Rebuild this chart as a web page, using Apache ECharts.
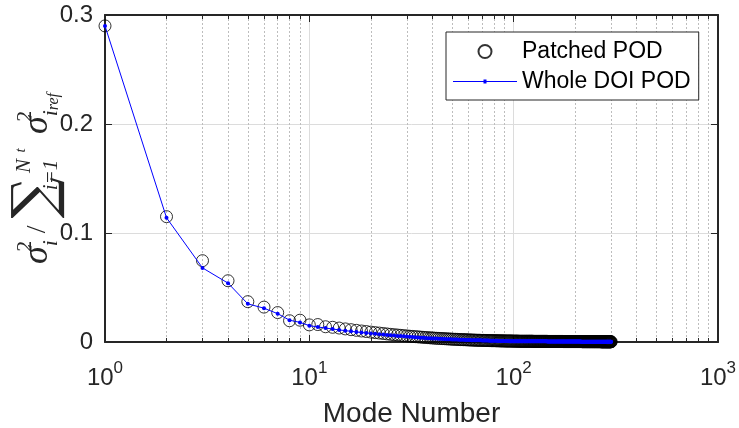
<!DOCTYPE html>
<html>
<head>
<meta charset="utf-8">
<script src="https://cdn.jsdelivr.net/npm/echarts@6/dist/echarts.min.js"></script>
<style>html,body{margin:0;padding:0;background:#fff;}#chart{width:739px;height:428px;}</style>
</head>
<body>
<div id="chart"></div>
<script>
// Mode number = index + 1
const patchedPOD = [
0.290,0.115,0.0746,0.0562,0.037,0.032,0.027,0.0195,0.0200,0.0157,
0.0160,0.0140,0.0135,0.0128,0.0120,0.0113,0.0107,0.0101,0.0096,0.0091,
0.0086,0.0082,0.0078,0.0074,0.0070,0.0067,0.0064,0.0061,0.0058,0.0056,
0.0053,0.0051,0.0049,0.0047,0.0045,0.0043,0.0041,0.0040,0.0038,0.0037,
0.0035,0.0034,0.0033,0.0032,0.0031,0.0030,0.0029,0.0028,0.0027,0.0026,
0.0025,0.0025,0.0024,0.0023,0.0022,0.0022,0.0021,0.0021,0.0020,0.0019,
0.0019,0.0018,0.0018,0.0017,0.0017,0.0016,0.0016,0.0016,0.0015,0.0015,
0.0015,0.0014,0.0014,0.0014,0.0013,0.0013,0.0013,0.0012,0.0012,0.0012,
0.0012,0.0011,0.0011,0.0011,0.0011,0.0010,0.0010,0.0010,0.0010,0.0010,
0.0009,0.0009,0.0009,0.0009,0.0009,0.0009,0.0009,0.0009,0.0008,0.0008,
0.0008,0.0008,0.0008,0.0008,0.0008,0.0007,0.0007,0.0007,0.0007,0.0007,
0.0007,0.0007,0.0007,0.0007,0.0007,0.0007,0.0007,0.0007,0.0007,0.0007,
0.0007,0.0007,0.0007,0.0007,0.0006,0.0006,0.0006,0.0006,0.0006,0.0006,
0.0006,0.0006,0.0006,0.0006,0.0006,0.0006,0.0006,0.0006,0.0006,0.0006,
0.0006,0.0006,0.0006,0.0006,0.0006,0.0006,0.0005,0.0005,0.0005,0.0005,
0.0005,0.0005,0.0005,0.0005,0.0005,0.0005,0.0005,0.0005,0.0005,0.0005,
0.0005,0.0005,0.0005,0.0005,0.0005,0.0005,0.0005,0.0005,0.0005,0.0005,
0.0005,0.0005,0.0005,0.0005,0.0004,0.0004,0.0004,0.0004,0.0004,0.0004,
0.0004,0.0004,0.0004,0.0004,0.0004,0.0004,0.0004,0.0004,0.0004,0.0004,
0.0004,0.0004,0.0004,0.0004,0.0004,0.0004,0.0004,0.0004,0.0004,0.0004,
0.0004,0.0004,0.0004,0.0004,0.0004,0.0004,0.0004,0.0004,0.0004,0.0004,
0.0004,0.0004,0.0004,0.0004,0.0004,0.0003,0.0003,0.0003,0.0003,0.0003,
0.0003,0.0003,0.0003,0.0003,0.0003,0.0003,0.0003,0.0003,0.0003,0.0003,
0.0003,0.0003,0.0003,0.0003,0.0003,0.0003,0.0003,0.0003,0.0003,0.0003,
0.0003,0.0003,0.0003,0.0003,0.0003,0.0003,0.0003,0.0003,0.0003,0.0003,
0.0003,0.0003,0.0003,0.0003,0.0003,0.0003,0.0003,0.0003,0.0003,0.0003,
0.0003,0.0003,0.0003,0.0003,0.0003,0.0003,0.0003,0.0002,0.0002,0.0002,
0.0002,0.0002,0.0002,0.0002,0.0002,0.0002,0.0002,0.0002,0.0002,0.0002,
0.0002,0.0002,0.0002,0.0002,0.0002,0.0002,0.0002,0.0002,0.0002,0.0002,
0.0002,0.0002,0.0002,0.0002,0.0002,0.0002,0.0002,0.0002,0.0002,0.0002
];
const wholeDOIPOD = [
0.290,0.114,0.068,0.054,0.035,0.031,0.026,0.020,0.018,0.0150,
0.0138,0.0128,0.0119,0.0111,0.0104,0.0098,0.0092,0.0087,0.0083,0.0079,
0.0075,0.0071,0.0068,0.0065,0.0062,0.0059,0.0056,0.0054,0.0052,0.0050,
0.0048,0.0046,0.0044,0.0042,0.0040,0.0038,0.0037,0.0035,0.0034,0.0033,
0.0032,0.0031,0.0030,0.0029,0.0028,0.0027,0.0026,0.0025,0.0025,0.0024,
0.0023,0.0023,0.0022,0.0021,0.0021,0.0020,0.0020,0.0019,0.0019,0.0018,
0.0018,0.0017,0.0017,0.0016,0.0016,0.0016,0.0015,0.0015,0.0015,0.0014,
0.0014,0.0014,0.0013,0.0013,0.0013,0.0012,0.0012,0.0012,0.0012,0.0011,
0.0011,0.0011,0.0011,0.0010,0.0010,0.0010,0.0010,0.0010,0.0009,0.0009,
0.0009,0.0009,0.0009,0.0009,0.0008,0.0008,0.0008,0.0008,0.0008,0.0008,
0.0008,0.0008,0.0008,0.0007,0.0007,0.0007,0.0007,0.0007,0.0007,0.0007,
0.0007,0.0007,0.0007,0.0007,0.0007,0.0007,0.0007,0.0007,0.0007,0.0007,
0.0007,0.0007,0.0007,0.0006,0.0006,0.0006,0.0006,0.0006,0.0006,0.0006,
0.0006,0.0006,0.0006,0.0006,0.0006,0.0006,0.0006,0.0006,0.0006,0.0006,
0.0006,0.0006,0.0006,0.0006,0.0006,0.0005,0.0005,0.0005,0.0005,0.0005,
0.0005,0.0005,0.0005,0.0005,0.0005,0.0005,0.0005,0.0005,0.0005,0.0005,
0.0005,0.0005,0.0005,0.0005,0.0005,0.0005,0.0005,0.0005,0.0005,0.0005,
0.0005,0.0005,0.0004,0.0004,0.0004,0.0004,0.0004,0.0004,0.0004,0.0004,
0.0004,0.0004,0.0004,0.0004,0.0004,0.0004,0.0004,0.0004,0.0004,0.0004,
0.0004,0.0004,0.0004,0.0004,0.0004,0.0004,0.0004,0.0004,0.0004,0.0004,
0.0004,0.0004,0.0004,0.0004,0.0004,0.0004,0.0004,0.0004,0.0004,0.0004,
0.0004,0.0004,0.0004,0.0003,0.0003,0.0003,0.0003,0.0003,0.0003,0.0003,
0.0003,0.0003,0.0003,0.0003,0.0003,0.0003,0.0003,0.0003,0.0003,0.0003,
0.0003,0.0003,0.0003,0.0003,0.0003,0.0003,0.0003,0.0003,0.0003,0.0003,
0.0003,0.0003,0.0003,0.0003,0.0003,0.0003,0.0003,0.0003,0.0003,0.0003,
0.0003,0.0003,0.0003,0.0003,0.0003,0.0003,0.0003,0.0003,0.0003,0.0003,
0.0003,0.0003,0.0003,0.0003,0.0003,0.0002,0.0002,0.0002,0.0002,0.0002,
0.0002,0.0002,0.0002,0.0002,0.0002,0.0002,0.0002,0.0002,0.0002,0.0002,
0.0002,0.0002,0.0002,0.0002,0.0002,0.0002,0.0002,0.0002,0.0002,0.0002,
0.0002,0.0002,0.0002,0.0002,0.0002,0.0002,0.0002,0.0002,0.0002,0.0002
];
const seriesNames = ['Patched POD', 'Whole DOI POD'];
const xRange = [1, 1000];
const yTicks = [0, 0.1, 0.2, 0.3];
const xTitle = 'Mode Number';

const INK = '#262626';
const SANS = 'Liberation Sans, Arial, Helvetica, sans-serif';
const SERIF = 'Liberation Serif, Times New Roman, serif';

const toPairs = arr => arr.map((v, i) => [i + 1, v]);

const chart = echarts.init(document.getElementById('chart'), null, {renderer: 'canvas'});

const axisCommon = {
  axisLine: {show: true, onZero: false, lineStyle: {color: INK, width: 2}},
  axisTick: {show: true, inside: true, length: 7, lineStyle: {color: INK, width: 1}},
};

const yTitle = '{s|σ}{sp|2}{sb|i}{sl| / }{sum|∑}{lo|i=1}{upN|N}{upt|t}{gap| }{s|σ}{sp|2}{sb|i}{sbr|ref}';

const option = {
  animation: false,
  backgroundColor: '#fff',
  grid: {left: 105, right: 21, top: 15, bottom: 86, outerBoundsMode: 'none', containLabel: false},
  legend: {
    orient: 'vertical',
    left: 446, top: 32,
    padding: [8, 8, 7, 7],
    itemWidth: 64, itemHeight: 13, itemGap: 7,
    borderColor: INK, borderWidth: 1, backgroundColor: '#fff',
    textStyle: {fontFamily: SANS, fontSize: 23, color: '#000'},
    data: [
      {name: seriesNames[0], icon: 'circle'},
      {name: seriesNames[1], icon: 'path://M0,6 L64,6 L64,7 L0,7 Z M30.5,4.5 L33.5,4.5 L33.5,8.5 L30.5,8.5 Z'}
    ]
  },
  xAxis: [
    Object.assign({}, axisCommon, {
      type: 'log', logBase: 10, min: xRange[0], max: xRange[1], position: 'bottom',
      name: xTitle, nameLocation: 'middle', nameGap: 58, nameMoveOverlap: false,
      nameTextStyle: {fontFamily: SANS, fontSize: 28, color: INK},
      axisLabel: {
        margin: 18,
        formatter: v => '{b|10}{s|' + Math.round(Math.log10(v)) + '}',
        rich: {
          b: {fontFamily: SANS, fontSize: 24, color: INK, lineHeight: 30, verticalAlign: 'bottom'},
          s: {fontFamily: SANS, fontSize: 17, color: INK, lineHeight: 10, verticalAlign: 'top'}
        }
      },
      minorTick: {show: true, splitNumber: 9, length: 4, lineStyle: {color: INK, width: 1}},
      splitLine: {show: true, lineStyle: {color: '#dcdcdc', width: 1}},
      minorSplitLine: {show: true, lineStyle: {color: '#bdbdbd', width: 1, type: [2, 2]}}
    }),
    Object.assign({}, axisCommon, {
      type: 'log', logBase: 10, min: xRange[0], max: xRange[1], position: 'top',
      axisLabel: {show: false},
      minorTick: {show: true, splitNumber: 9, length: 4, lineStyle: {color: INK, width: 1}},
      splitLine: {show: false}
    })
  ],
  yAxis: [
    Object.assign({}, axisCommon, {
      type: 'value', min: yTicks[0], max: yTicks[yTicks.length - 1], interval: 0.1, position: 'left',
      axisLabel: {margin: 12, fontFamily: SANS, fontSize: 24, color: INK, formatter: v => String(+v.toFixed(1))},
      splitLine: {show: true, lineStyle: {color: '#dcdcdc', width: 1}},
      name: yTitle, nameLocation: 'middle', nameRotate: 90, nameGap: 43, nameMoveOverlap: false,
      nameTextStyle: {
        color: INK,
        rich: {
          s: {fontFamily: SERIF, fontStyle: 'italic', fontSize: 36, color: INK, lineHeight: 48, verticalAlign: 'middle'},
          sl: {fontFamily: SERIF, fontSize: 28, color: INK, lineHeight: 48, verticalAlign: 'middle'},
          sp: {fontFamily: SERIF, fontSize: 22, color: INK, lineHeight: 16, verticalAlign: 'top', width: 0},
          sb: {fontFamily: SERIF, fontStyle: 'italic', fontSize: 22, color: INK, lineHeight: 18, verticalAlign: 'bottom'},
          sbr: {fontFamily: SERIF, fontStyle: 'italic', fontSize: 16, color: INK, lineHeight: 10, verticalAlign: 'bottom'},
          sum: {fontFamily: 'DejaVu Serif, serif', fontSize: 58, color: INK, lineHeight: 48, verticalAlign: 'middle'},
          lo: {fontFamily: SERIF, fontStyle: 'italic', fontSize: 21, color: INK, lineHeight: 18, verticalAlign: 'bottom', width: 0, padding: [0, 0, 0, 2]},
          upN: {fontFamily: SERIF, fontStyle: 'italic', fontSize: 21, color: INK, lineHeight: 16, verticalAlign: 'top', padding: [0, 0, 0, 2]},
          upt: {fontFamily: SERIF, fontStyle: 'italic', fontSize: 15, color: INK, lineHeight: 26, verticalAlign: 'top', width: 17},
          gap: {fontSize: 10, lineHeight: 48, width: 8}
        }
      }
    }),
    Object.assign({}, axisCommon, {
      type: 'value', min: yTicks[0], max: yTicks[yTicks.length - 1], interval: 0.1, position: 'right',
      axisLabel: {show: false}, splitLine: {show: false}
    })
  ],
  series: [
    {
      name: seriesNames[0], type: 'scatter', xAxisIndex: 0, yAxisIndex: 0,
      data: toPairs(patchedPOD),
      symbol: 'circle', symbolSize: 12, z: 2,
      itemStyle: {color: 'rgba(255,255,255,0)', borderColor: '#000', borderWidth: 1},
      emphasis: {disabled: true}
    },
    {
      name: seriesNames[1], type: 'line', xAxisIndex: 0, yAxisIndex: 0,
      data: toPairs(wholeDOIPOD),
      symbol: 'circle', symbolSize: 4, showSymbol: true, showAllSymbol: true, z: 3,
      lineStyle: {color: '#0000ff', width: 1},
      itemStyle: {color: '#0000ff', borderWidth: 0},
      emphasis: {disabled: true}
    }
  ]
};
chart.setOption(option);
</script>
</body>
</html>
